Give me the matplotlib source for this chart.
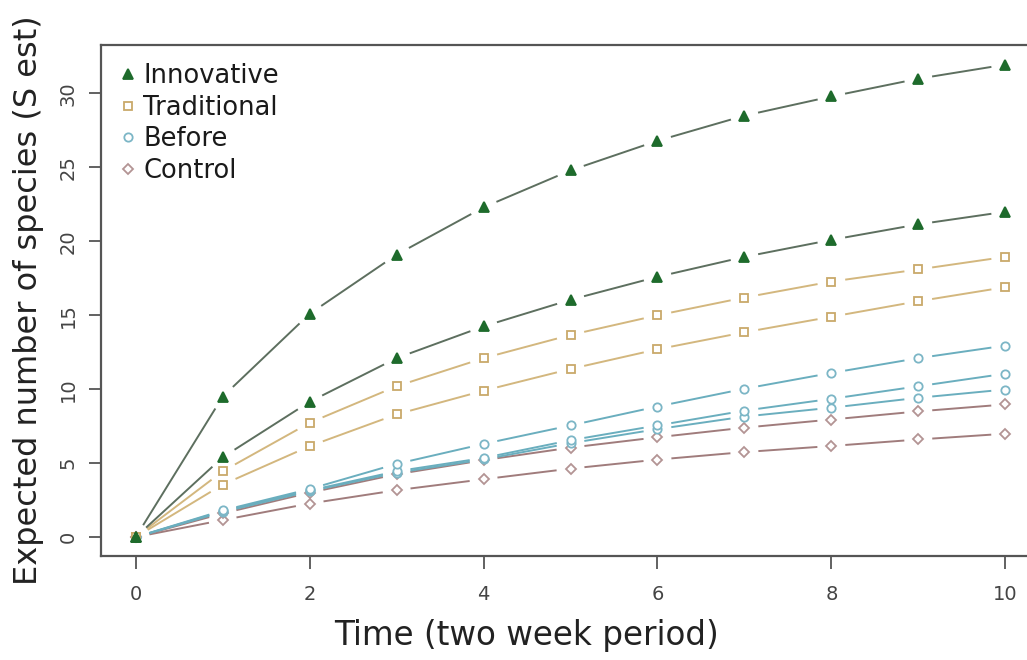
import matplotlib
matplotlib.use('Agg')
import matplotlib.pyplot as plt
from matplotlib.lines import Line2D
import numpy as np

# time steps (two week periods)
time = [0, 1, 2, 3, 4, 5, 6, 7, 8, 9, 10]

# Innovative
innov_a = [0, 9.5, 15.1, 19.1, 22.3, 24.8, 26.8, 28.5, 29.8, 31.0, 31.95]
innov_b = [0, 5.4, 9.15, 12.1, 14.25, 16.05, 17.6, 18.95, 20.1, 21.15, 22.0]
# Traditional
trad_a = [0, 4.45, 7.73, 10.2, 12.1, 13.67, 15.0, 16.2, 17.28, 18.1, 18.95]
trad_b = [0, 3.55, 6.15, 8.3, 9.9, 11.37, 12.7, 13.85, 14.9, 15.95, 16.9]
# Before
before_a = [0, 1.8, 3.25, 4.95, 6.3, 7.55, 8.83, 10.03, 11.1, 12.1, 12.95]
before_b = [0, 1.75, 3.15, 4.45, 5.35, 6.55, 7.55, 8.55, 9.35, 10.2, 11.05]
before_c = [0, 1.7, 3.1, 4.35, 5.25, 6.35, 7.3, 8.15, 8.75, 9.42, 9.98]
# Control
control_a = [0, 1.6, 3.0, 4.25, 5.2, 6.05, 6.75, 7.4, 7.95, 8.5, 8.97]
control_b = [0, 1.15, 2.27, 3.17, 3.91, 4.63, 5.24, 5.75, 6.16, 6.6, 6.99]

labels = ['Innovative', 'Traditional', 'Before', 'Control']

fig = plt.figure(figsize=(10.27, 6.6), dpi=100)
ax = fig.add_axes([101 / 1027, 1 - 556 / 660, (1040 - 101) / 1027, (556 - 45) / 660])
ax.set_xlim(-0.4, 10.4)
ax.set_ylim(-1.28, 33.28)

# style per group: marker, marker face, marker edge, line colour, marker size
styles = {
    'Innovative': ('^', '#1e6b2c', '#1e6b2c', '#5d6f5f', 7),
    'Traditional': ('s', 'white', '#c9a96a', '#d3b77e', 6),
    'Before': ('o', 'white', '#7cb6c6', '#6aaebe', 6),
    'Control': ('D', 'white', '#b39494', '#a07c7c', 5.5),
}
groups = [
    ('Control', control_b), ('Control', control_a),
    ('Before', before_c), ('Before', before_b), ('Before', before_a),
    ('Traditional', trad_b), ('Traditional', trad_a),
    ('Innovative', innov_b), ('Innovative', innov_a),
]

# leave a blank gap round each point, like R type="b"
gap = 14  # pixels
fig.canvas.draw()
to_px = ax.transData
for name, ys in groups:
    mk, fc, ec, lc, ms = styles[name]
    pts = to_px.transform(np.column_stack([time, ys]))
    segs_x, segs_y = [], []
    for p0, p1 in zip(pts[:-1], pts[1:]):
        d = p1 - p0
        L = np.hypot(d[0], d[1])
        if L <= 2 * gap:
            continue
        u = d / L
        a = to_px.inverted().transform(p0 + u * gap)
        b = to_px.inverted().transform(p1 - u * gap)
        segs_x += [a[0], b[0], np.nan]
        segs_y += [a[1], b[1], np.nan]
    ax.plot(segs_x, segs_y, color=lc, lw=1.4, solid_capstyle='butt')
    ax.plot(time, ys, linestyle='none', marker=mk, markersize=ms,
            markerfacecolor=fc, markeredgecolor=ec, markeredgewidth=1.3)

for s in ax.spines.values():
    s.set_color('#555555')
    s.set_linewidth(1.6)

ax.set_xticks([0, 2, 4, 6, 8, 10])
ax.set_yticks([0, 5, 10, 15, 20, 25, 30])
ax.tick_params(axis='both', length=9, width=1.3, color='#555555',
               labelcolor='#444444', labelsize=14)
for t in ax.get_yticklabels():
    t.set_rotation(90)
    t.set_va('center')
ax.tick_params(axis='x', pad=12)
ax.tick_params(axis='y', pad=8)

fig.text(527 / 1027, 1 - 636 / 660, 'Time (two week period)', fontsize=23.5,
         color='#222222', ha='center', va='center')
ax.set_ylabel('Expected number of species (S est)', fontsize=23,
              color='#222222', labelpad=10)

handles = []
for name in labels:
    mk, fc, ec, lc, ms = styles[name]
    handles.append(Line2D([], [], linestyle='none', marker=mk, markersize=ms,
                          markerfacecolor=fc, markeredgecolor=ec,
                          markeredgewidth=1.3))
ax.legend(handles, labels, loc='upper left', frameon=False, fontsize=18.5,
          handlelength=0.7, handletextpad=0.25, labelspacing=0.22,
          borderaxespad=0.3, bbox_to_anchor=(0.0, 1.0), labelcolor='#1a1a1a')

fig.savefig('out.png', dpi=100)
